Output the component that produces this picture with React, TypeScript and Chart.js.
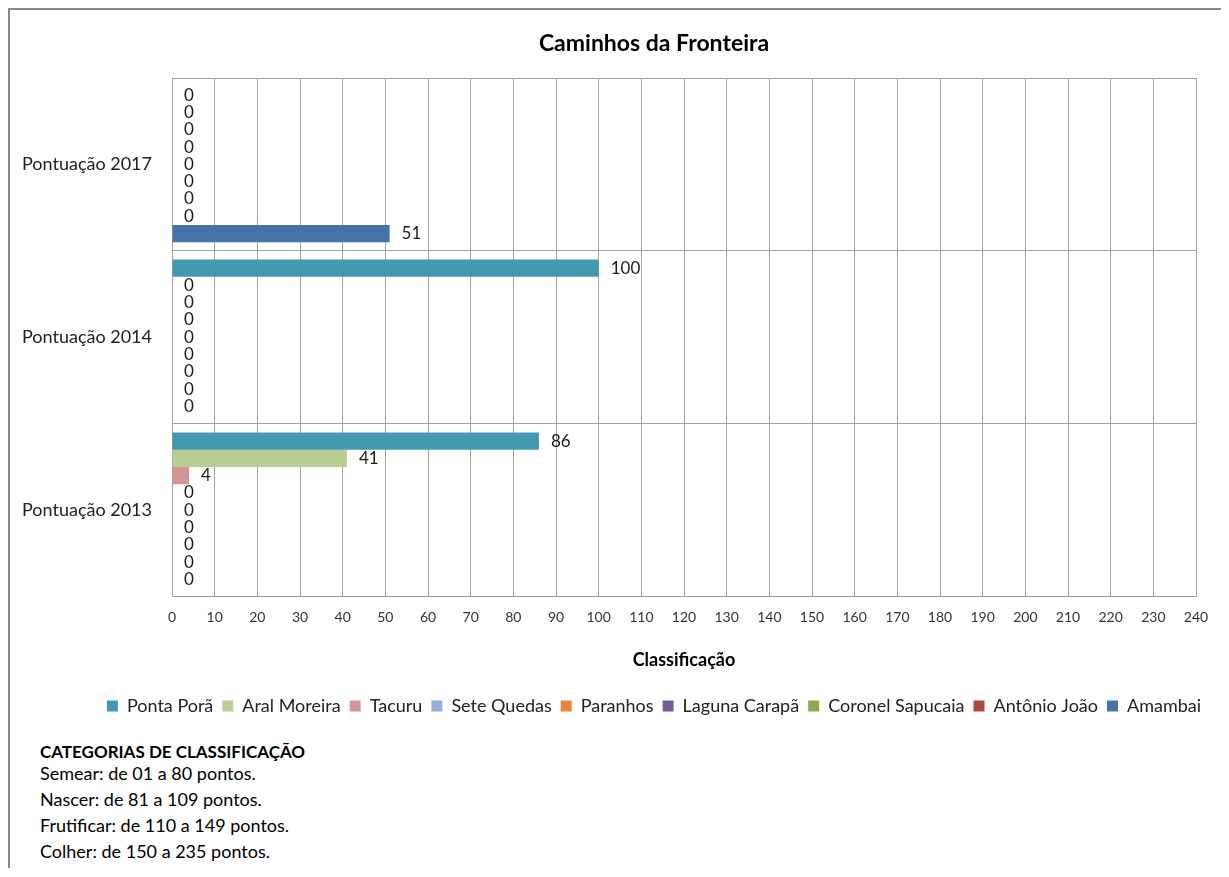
import React, { useEffect, useRef } from "react";
import { Chart, registerables } from "chart.js";

Chart.register(...registerables);

const categories = ["Pontuação 2017", "Pontuação 2014", "Pontuação 2013"];
const seriesNames = [
  "Ponta Porã",
  "Aral Moreira",
  "Tacuru",
  "Sete Quedas",
  "Paranhos",
  "Laguna Carapã",
  "Coronel Sapucaia",
  "Antônio João",
  "Amambai",
];
const pontaPora = [0, 100, 86];
const aralMoreira = [0, 0, 41];
const tacuru = [0, 0, 4];
const seteQuedas = [0, 0, 0];
const paranhos = [0, 0, 0];
const lagunaCarapa = [0, 0, 0];
const coronelSapucaia = [0, 0, 0];
const antonioJoao = [0, 0, 0];
const amambai = [51, 0, 0];
const seriesValues = [
  pontaPora,
  aralMoreira,
  tacuru,
  seteQuedas,
  paranhos,
  lagunaCarapa,
  coronelSapucaia,
  antonioJoao,
  amambai,
];
const seriesColors = [
  "#4399B0",
  "#B9CE95",
  "#D59594",
  "#95AED6",
  "#E2863C",
  "#765E98",
  "#8CA94C",
  "#AE4642",
  "#4673A8",
];
const xMin = 0;
const xMax = 240;
const xStep = 10;
const chartTitle = "Caminhos da Fronteira";
const xAxisTitle = "Classificação";
const notesTitle = "CATEGORIAS DE CLASSIFICAÇÃO";
const notes = [
  "Semear: de 01 a 80 pontos.",
  "Nascer: de 81 a 109 pontos.",
  "Frutificar: de 110 a 149 pontos.",
  "Colher: de 150 a 235 pontos.",
];

const FONT = "Lato, 'Open Sans', sans-serif";
const GRID = "#A0A0A0";

const valueLabels = {
  id: "valueLabels",
  afterDatasetsDraw(chart: any) {
    const ctx = chart.ctx;
    ctx.save();
    ctx.font = `17px ${FONT}`;
    ctx.fillStyle = "#1a1a1a";
    ctx.textAlign = "left";
    ctx.textBaseline = "middle";
    chart.data.datasets.forEach((ds: any, i: number) => {
      const meta = chart.getDatasetMeta(i);
      meta.data.forEach((el: any, j: number) => {
        ctx.fillText(String(ds.data[j]), el.x + 12, el.y);
      });
    });
    ctx.restore();
  },
};

export default function App() {
  const ref = useRef<HTMLCanvasElement | null>(null);

  useEffect(() => {
    if (!ref.current) return;
    const chart = new Chart(ref.current, {
      type: "bar",
      data: {
        labels: categories,
        datasets: seriesNames.map((name, i) => ({
          label: name,
          data: seriesValues[i],
          backgroundColor: seriesColors[i],
          borderWidth: 0,
          categoryPercentage: 0.9,
          barPercentage: 1,
          xAxisID: "x",
          yAxisID: "y",
        })),
      },
      options: {
        indexAxis: "y",
        responsive: false,
        animation: false,
        devicePixelRatio: 1,
        layout: { padding: { left: 10, right: 10, top: 0, bottom: 5 } },
        plugins: {
          title: {
            display: true,
            text: chartTitle,
            color: "#000",
            font: { family: FONT, size: 23, weight: "bold" },
            padding: { top: 20, bottom: 20.4 },
          },
          legend: {
            position: "bottom",
            labels: {
              boxWidth: 11,
              boxHeight: 11,
              padding: 9,
              color: "#222",
              font: { family: FONT, size: 18 },
            },
          },
          tooltip: { enabled: false },
        },
        scales: {
          x: {
            type: "linear",
            min: xMin,
            max: xMax,
            ticks: {
              stepSize: xStep,
              color: "#333",
              font: { family: FONT, size: 14 },
              padding: 12,
              autoSkip: false,
              maxRotation: 0,
            },
            grid: { color: GRID, drawTicks: false },
            border: { color: GRID },
            title: {
              display: true,
              text: xAxisTitle,
              color: "#000",
              font: { family: FONT, size: 18, weight: "bold" },
              padding: { top: 17, bottom: 17 },
            },
            afterFit(s: any) {
              s.height = 91.4;
            },
          },
          y: {
            type: "category",
            ticks: { color: "#222", font: { family: FONT, size: 18 }, padding: 20 },
            grid: { color: GRID, drawTicks: false, offset: true },
            border: { color: GRID },
            afterFit(s: any) {
              s.width = 152;
            },
          },
          y2: {
            type: "linear",
            position: "right",
            display: true,
            grid: { display: false },
            ticks: { display: false },
            border: { display: false },
            afterFit(s: any) {
              s.width = 92;
            },
          },
        },
      } as any,
      plugins: [valueLabels],
    });
    return () => chart.destroy();
  }, []);

  return (
    <div
      style={{
        position: "relative",
        boxSizing: "border-box",
        width: 1221,
        height: 860,
        borderTop: "2px solid #888",
        borderLeft: "2px solid #888",
        overflow: "hidden",
        background: "#fff",
      }}
    >
      <canvas
        ref={ref}
        width={1288}
        height={720}
        style={{ position: "absolute", left: 0, top: 0, width: 1288, height: 720 }}
      />
      <div
        style={{
          position: "absolute",
          left: 30,
          top: 731,
          fontFamily: FONT,
          color: "#000",
        }}
      >
        <div style={{ fontWeight: "bold", lineHeight: "22px", fontSize: 17 }}>{notesTitle}</div>
        <div style={{ marginTop: -3, fontSize: 18 }}>
          {notes.map((n) => (
            <div key={n} style={{ lineHeight: "26px" }}>
              {n}
            </div>
          ))}
        </div>
      </div>
    </div>
  );
}
